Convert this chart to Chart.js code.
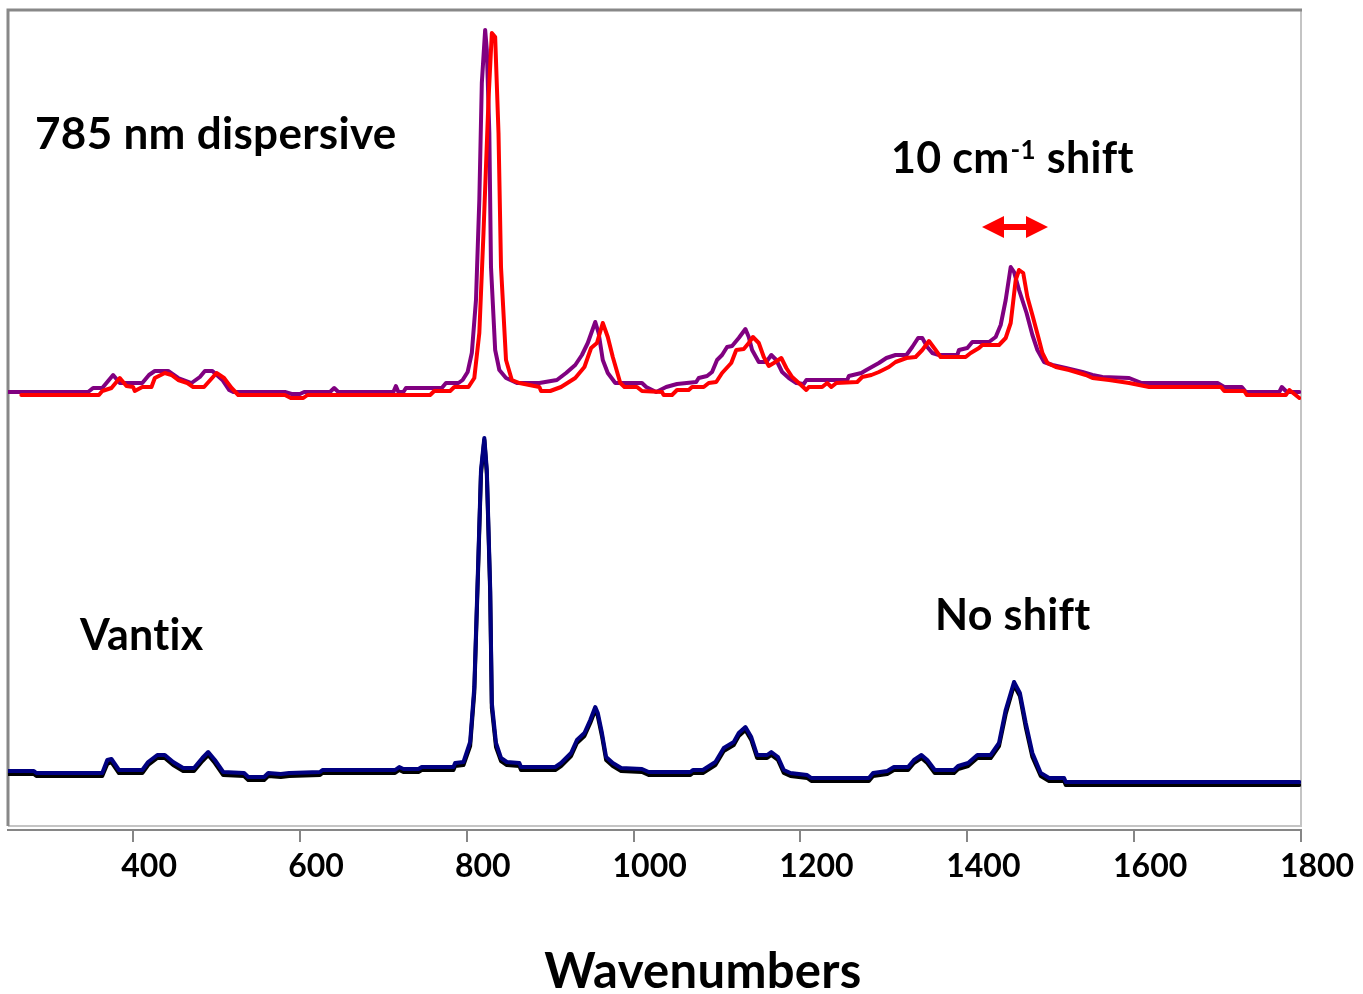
<!DOCTYPE html>
<html>
<head>
<meta charset="utf-8">
<script src="https://cdn.jsdelivr.net/npm/chart.js@4.4.0/dist/chart.umd.min.js"></script>
<style>
  html, body { margin: 0; padding: 0; background: #fff; }
  #cv { display: block; }
</style>
</head>
<body>
<canvas id="cv" width="1363" height="994"></canvas>
<script>
// x axis ticks (wavenumbers, cm-1)
const tickValues = [400, 600, 800, 1000, 1200, 1400, 1600, 1800];

// 785 nm dispersive, reference (purple)
const purpleX = [250,346,352,363,376,384,411,419,426,442,454,470,480,486,495,507,515,520,582,590,600,605,636,641,646,712,715,718,724,727,770,775,790,795,801,806,811,815,818,822,824,827,829,834,839,847,860,887,908,919,930,938,945,954,958,963,969,978,1010,1015,1027,1039,1052,1075,1078,1088,1094,1100,1106,1112,1118,1126,1134,1138,1142,1150,1159,1165,1171,1178,1186,1195,1204,1207,1256,1258,1273,1279,1294,1303,1314,1327,1334,1341,1346,1352,1358,1366,1388,1390,1400,1406,1426,1434,1440,1446,1452,1456,1462,1471,1478,1484,1492,1502,1518,1538,1550,1562,1594,1609,1700,1708,1729,1734,1774,1777,1783,1798];
const purpleY = [434,434,438,438,451,443,443,451,455,455,448,443,449,455,455,446,436,434,434,432,432,434,434,438,434,434,440,434,434,438,438,443,443,446,454,473,526,626,743,796,776,693,559,476,456,448,443,443,446,453,461,471,483,504,493,466,453,443,443,439,434,439,442,444,448,450,454,466,471,479,480,488,497,489,476,464,464,471,466,454,448,443,442,446,446,450,453,456,463,468,471,471,479,488,488,479,473,471,471,476,478,484,484,489,501,526,559,554,536,513,491,476,464,461,458,454,451,449,448,443,443,439,439,434,434,439,434,434];

// 785 nm dispersive, shifted (red)
const redX = [266,359,363,374,384,392,400,402,411,422,426,438,446,454,465,472,485,500,509,518,526,582,589,604,609,756,761,780,785,802,809,815,820,826,830,834,838,841,847,854,863,887,889,900,913,930,941,949,956,963,969,975,984,989,1004,1010,1034,1036,1046,1052,1066,1070,1084,1090,1099,1106,1117,1123,1132,1138,1143,1150,1156,1162,1168,1177,1183,1190,1198,1207,1210,1226,1232,1237,1243,1268,1274,1285,1294,1306,1314,1327,1338,1346,1354,1362,1368,1398,1404,1414,1418,1438,1446,1452,1458,1462,1467,1472,1478,1486,1490,1496,1506,1522,1542,1550,1570,1594,1618,1704,1708,1732,1735,1782,1786,1798];
const redY = [431,431,435,438,448,440,439,435,439,439,448,453,451,446,443,439,439,453,448,438,431,431,428,428,431,431,435,435,439,439,448,493,593,726,793,789,693,559,466,446,443,439,435,435,439,448,459,478,483,503,489,469,443,439,439,435,434,431,431,436,436,439,439,443,444,453,463,476,477,483,489,483,469,460,463,468,458,449,443,436,439,439,443,439,443,444,449,451,454,459,464,468,469,476,485,476,469,469,473,478,481,481,488,503,546,556,553,529,511,486,473,463,459,456,451,448,446,443,439,439,435,435,431,431,436,428];

// Vantix (navy on top, black under it)
const vantixX = [250,281,284,363,369,374,383,411,418,429,438,448,460,473,483,490,498,508,533,538,557,562,577,587,624,627,714,719,724,742,746,784,786,796,804,809,814,817,821,824,828,830,835,841,848,863,865,906,913,925,932,941,948,954,957,962,967,975,985,1010,1018,1068,1071,1083,1098,1108,1120,1126,1134,1141,1148,1160,1165,1173,1180,1188,1208,1213,1282,1287,1304,1312,1329,1336,1345,1352,1361,1384,1389,1401,1412,1428,1438,1446,1456,1463,1470,1478,1488,1498,1516,1518,1798];
const navyY = [55,55,53,53,66,67,56,56,64,71,71,64,58,58,68,74,66,54,53,49,49,53,52,53,54,56,56,59,57,57,59,59,63,64,84,139,273,356,388,356,239,123,83,68,64,63,59,59,63,73,86,93,106,119,113,93,69,63,58,57,54,54,56,56,64,78,84,93,99,89,71,71,74,69,56,53,51,48,48,53,55,59,59,66,71,66,56,56,60,63,71,71,83,116,144,133,103,73,53,48,48,44,44];
const blackY = [52,52,50,50,62,64,53,53,61,68,68,61,55,55,65,71,63,51,50,46,46,50,49,50,51,53,53,56,54,54,56,56,60,61,80,134,268,352,386,352,234,118,79,65,61,60,56,56,60,70,83,90,103,116,110,90,66,60,55,54,51,51,53,53,61,75,81,90,96,86,68,68,71,66,53,50,48,45,45,50,52,56,56,63,68,63,53,53,57,60,68,68,80,112,141,130,99,69,50,45,45,41,41];

const pts = (xs, ys) => xs.map((x, i) => ({ x: x, y: ys[i] }));

const FONT = 'Lato, "Open Sans", sans-serif';

// frame, texts and the red double arrow
const decor = {
  id: 'decor',
  beforeDatasetsDraw(chart) {
    const { ctx, chartArea: a } = chart;
    ctx.save();
    ctx.lineWidth = 2;
    ctx.strokeStyle = '#c4c4c4';
    ctx.beginPath();
    ctx.moveTo(a.right, a.top); ctx.lineTo(a.right, a.bottom - 4);
    ctx.lineTo(a.left, a.bottom - 4);
    ctx.stroke();
    ctx.strokeStyle = '#888888';
    ctx.lineWidth = 3;
    ctx.beginPath();
    ctx.moveTo(a.left, a.bottom - 4); ctx.lineTo(a.left, a.top); ctx.lineTo(a.right + 1, a.top);
    ctx.stroke();
    ctx.restore();
  },
  afterDraw(chart) {
    const { ctx } = chart;
    ctx.save();
    ctx.letterSpacing = '0.3px'; // keeps "ti" / "ft" from turning into ligatures
    ctx.fillStyle = '#000';
    ctx.textBaseline = 'alphabetic';
    ctx.textAlign = 'left';
    ctx.font = 'bold 44px ' + FONT;
    ctx.fillText('785 nm dispersive', 35, 149);
    ctx.font = 'bold 43px ' + FONT;
    ctx.fillText('Vantix', 80, 650);
    ctx.fillText('No shift', 935, 630);

    // 10 cm-1 shift with superscript
    let x = 891;
    ctx.fillText('10 cm', x, 173);
    x += ctx.measureText('10 cm').width + 1;
    ctx.font = 'bold 26px ' + FONT;
    ctx.fillText('-1', x, 159);
    x += ctx.measureText('-1').width;
    ctx.font = 'bold 43px ' + FONT;
    ctx.fillText(' shift', x, 173);

    ctx.font = 'bold 49px ' + FONT;
    ctx.textAlign = 'center';
    ctx.fillText('Wavenumbers', 703, 988);

    // double arrow
    const x0 = 982, x1 = 1048, yc = 227, hl = 22, hh = 11, sh = 3;
    ctx.fillStyle = '#ff0000';
    ctx.beginPath();
    ctx.moveTo(x0, yc);
    ctx.lineTo(x0 + hl, yc - hh);
    ctx.lineTo(x0 + hl, yc - sh);
    ctx.lineTo(x1 - hl, yc - sh);
    ctx.lineTo(x1 - hl, yc - hh);
    ctx.lineTo(x1, yc);
    ctx.lineTo(x1 - hl, yc + hh);
    ctx.lineTo(x1 - hl, yc + sh);
    ctx.lineTo(x0 + hl, yc + sh);
    ctx.lineTo(x0 + hl, yc + hh);
    ctx.closePath();
    ctx.fill();
    ctx.restore();
  }
};

new Chart(document.getElementById('cv'), {
  type: 'line',
  data: {
    datasets: [
      { label: 'Vantix', data: pts(vantixX, navyY), borderColor: '#000080', borderWidth: 4 },
      { label: 'Vantix 2', data: pts(vantixX, blackY), borderColor: '#000000', borderWidth: 4 },
      { label: '785 shifted', data: pts(redX, redY), borderColor: '#ff0000', borderWidth: 4 },
      { label: '785 ref', data: pts(purpleX, purpleY), borderColor: '#800080', borderWidth: 4 }
    ]
  },
  options: {
    responsive: false,
    animation: false,
    events: [],
    layout: { padding: { left: 8, right: 62, top: 10, bottom: 0 } },
    elements: {
      point: { radius: 0 },
      line: { tension: 0, borderJoinStyle: 'round', borderCapStyle: 'round' }
    },
    plugins: { legend: { display: false }, tooltip: { enabled: false } },
    scales: {
      x: {
        type: 'linear',
        min: 250,
        max: 1800,
        afterBuildTicks: (s) => { s.ticks = tickValues.map(v => ({ value: v })); },
        afterFit: (s) => { s.height = 164; s.paddingLeft = 0; s.paddingRight = 0; },
        border: { display: true, color: '#868686', width: 2 },
        grid: { drawOnChartArea: false, drawTicks: true, tickLength: 12, color: '#868686', lineWidth: 2 },
        ticks: {
          autoSkip: false,
          maxRotation: 0,
          padding: 5,
          labelOffset: 16,
          color: '#000',
          font: { family: FONT, size: 32, weight: 'bold' },
          callback: (v) => String(v)
        }
      },
      y: {
        display: false,
        min: -4,
        max: 816
      }
    }
  },
  plugins: [decor]
});
</script>
</body>
</html>
